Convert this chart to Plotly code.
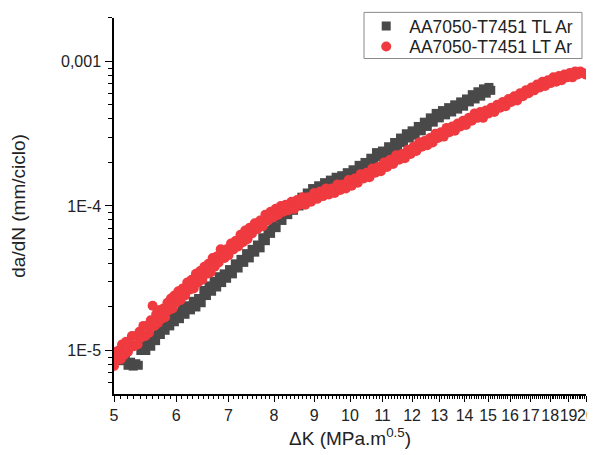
import math
import plotly.graph_objects as go

# AA7050-T7451 TL Ar (grey squares)
tl_dk = [5.06, 5.09, 5.13, 5.17, 5.21, 5.25, 5.29, 5.33, 5.37, 5.41, 5.45, 5.49, 5.53, 5.57,
         5.61, 5.65, 5.69, 5.73, 5.77, 5.81, 5.85, 5.89, 5.93, 5.97, 6.01, 6.06, 6.11, 6.16,
         6.21, 6.26, 6.31, 6.36, 6.41, 6.46, 6.51, 6.56, 6.61, 6.66, 6.71, 6.76, 6.81, 6.86,
         6.91, 6.96, 7.02, 7.08, 7.14, 7.20, 7.26, 7.32, 7.38, 7.44, 7.50, 7.56, 7.62, 7.68,
         7.74, 7.80, 7.86, 7.92, 7.98, 8.05, 8.12, 8.19, 8.26, 8.33, 8.40, 8.47, 8.54, 8.61,
         8.68, 8.75, 8.82, 8.89, 8.96, 9.04, 9.12, 9.20, 9.28, 9.36, 9.44, 9.52, 9.60, 9.68,
         9.76, 9.84, 9.92, 10.00, 10.09, 10.18, 10.27, 10.36, 10.45, 10.54, 10.63, 10.72, 10.81,
         10.90, 11.00, 11.10, 11.20, 11.30, 11.40, 11.50, 11.60, 11.70, 11.80, 11.90, 12.00,
         12.11, 12.22, 12.33, 12.44, 12.55, 12.66, 12.77, 12.88, 13.00, 13.12, 13.24, 13.36,
         13.48, 13.60, 13.72, 13.84, 13.96, 14.08, 14.20, 14.32, 14.44, 14.56, 14.68, 14.80,
         14.92, 15.04, 15.12]
tl_dadn = [8.9e-6, 9.5e-6, 8.5e-6, 9.3e-6, 7.9e-6, 8.3e-6, 7.8e-6, 8.1e-6, 7.9e-6, 1.00e-5,
           1.10e-5, 1.00e-5, 1.12e-5, 1.07e-5, 1.26e-5, 1.17e-5, 1.38e-5, 1.29e-5, 1.48e-5,
           1.38e-5, 1.58e-5, 1.48e-5, 1.70e-5, 1.58e-5, 1.82e-5, 1.66e-5, 1.95e-5, 1.78e-5,
           2.04e-5, 1.91e-5, 2.19e-5, 2.00e-5, 2.29e-5, 2.14e-5, 2.60e-5, 2.40e-5, 2.80e-5,
           2.57e-5, 3.00e-5, 2.75e-5, 3.24e-5, 2.95e-5, 3.39e-5, 3.16e-5, 3.63e-5, 3.39e-5,
           3.98e-5, 3.72e-5, 4.27e-5, 4.07e-5, 4.68e-5, 4.37e-5, 5.01e-5, 4.79e-5, 5.37e-5,
           5.13e-5, 6.03e-5, 5.75e-5, 6.76e-5, 6.46e-5, 7.41e-5, 7.08e-5, 8.32e-5, 7.94e-5,
           9.12e-5, 8.71e-5, 9.77e-5, 9.33e-5, 1.07e-4, 1.00e-4, 1.15e-4, 1.07e-4, 1.23e-4,
           1.15e-4, 1.32e-4, 1.23e-4, 1.38e-4, 1.29e-4, 1.45e-4, 1.35e-4, 1.51e-4, 1.41e-4,
           1.58e-4, 1.48e-4, 1.62e-4, 1.55e-4, 1.70e-4, 1.58e-4, 1.78e-4, 1.70e-4, 1.91e-4,
           1.78e-4, 2.00e-4, 1.86e-4, 2.14e-4, 2.00e-4, 2.34e-4, 2.19e-4, 2.40e-4, 2.24e-4,
           2.57e-4, 2.40e-4, 2.75e-4, 2.57e-4, 2.95e-4, 2.75e-4, 3.16e-4, 2.95e-4, 3.31e-4,
           3.09e-4, 3.55e-4, 3.31e-4, 3.80e-4, 3.55e-4, 4.07e-4, 3.80e-4, 4.37e-4, 4.07e-4,
           4.57e-4, 4.27e-4, 4.79e-4, 4.47e-4, 5.01e-4, 4.68e-4, 5.25e-4, 4.90e-4, 5.50e-4,
           5.25e-4, 5.89e-4, 5.50e-4, 6.17e-4, 5.75e-4, 6.46e-4, 6.03e-4, 6.61e-4, 6.31e-4]

# AA7050-T7451 LT Ar (red circles)
lt_dk = [5.00, 5.02, 5.04, 5.07, 5.10, 5.12, 5.15, 5.18, 5.21, 5.24, 5.27, 5.30, 5.33, 5.36,
         5.39, 5.42, 5.45, 5.48, 5.51, 5.54, 5.57, 5.60, 5.63, 5.66, 5.69, 5.72, 5.75, 5.78,
         5.81, 5.85, 5.88, 5.91, 5.94, 5.97, 6.00, 6.04, 6.08, 6.12, 6.16, 6.20, 6.24, 6.28,
         6.32, 6.36, 6.40, 6.44, 6.48, 6.52, 6.56, 6.60, 6.64, 6.68, 6.72, 6.76, 6.80, 6.84,
         6.88, 6.92, 6.96, 7.00, 7.05, 7.10, 7.15, 7.20, 7.25, 7.30, 7.35, 7.40, 7.45, 7.50,
         7.56, 7.62, 7.68, 7.74, 7.80, 7.86, 7.92, 7.98, 8.04, 8.10, 8.16, 8.22, 8.28, 8.35,
         8.42, 8.49, 8.56, 8.63, 8.70, 8.77, 8.84, 8.92, 9.00, 9.08, 9.16, 9.24, 9.32, 9.40,
         9.48, 9.56, 9.64, 9.72, 9.80, 9.88, 9.96, 10.05, 10.14, 10.23, 10.32, 10.41, 10.50,
         10.59, 10.68, 10.77, 10.86, 10.95, 11.05, 11.15, 11.25, 11.35, 11.45, 11.55, 11.65,
         11.75, 11.85, 11.95, 12.05, 12.15, 12.25, 12.35, 12.45, 12.55, 12.65, 12.75, 12.85,
         12.95, 13.06, 13.17, 13.28, 13.39, 13.50, 13.61, 13.72, 13.83, 13.94, 14.06, 14.18,
         14.30, 14.42, 14.54, 14.66, 14.78, 14.90, 15.02, 15.15, 15.28, 15.41, 15.54, 15.67,
         15.80, 15.93, 16.06, 16.20, 16.34, 16.48, 16.62, 16.76, 16.90, 17.04, 17.18, 17.32,
         17.46, 17.60, 17.74, 17.88, 18.02, 18.17, 18.32, 18.47, 18.62, 18.77, 18.92, 19.07,
         19.22, 19.37, 19.52, 19.67, 19.82, 19.97]
lt_dadn = [7.8e-6, 9.8e-6, 8.7e-6, 1.00e-5, 8.7e-6, 1.10e-5, 9.3e-6, 1.15e-5, 9.8e-6, 1.12e-5,
           1.26e-5, 1.07e-5, 1.26e-5, 1.10e-5, 1.35e-5, 1.23e-5, 1.48e-5, 1.26e-5, 1.48e-5,
           1.32e-5, 1.62e-5, 2.04e-5, 1.48e-5, 1.78e-5, 1.55e-5, 1.91e-5, 1.66e-5, 1.95e-5,
           1.70e-5, 2.14e-5, 1.91e-5, 2.29e-5, 1.95e-5, 2.40e-5, 2.14e-5, 2.57e-5, 2.24e-5,
           2.69e-5, 2.40e-5, 2.95e-5, 2.63e-5, 3.09e-5, 2.69e-5, 3.39e-5, 2.95e-5, 3.55e-5,
           3.09e-5, 3.80e-5, 3.39e-5, 3.98e-5, 3.47e-5, 4.37e-5, 3.80e-5, 4.47e-5, 4.07e-5,
           5.01e-5, 4.90e-5, 4.37e-5, 5.01e-5, 4.57e-5, 5.50e-5, 5.01e-5, 5.75e-5, 5.25e-5,
           6.31e-5, 5.62e-5, 6.76e-5, 5.89e-5, 7.08e-5, 6.46e-5, 7.59e-5, 6.92e-5, 7.94e-5,
           7.24e-5, 8.71e-5, 7.94e-5, 9.12e-5, 8.32e-5, 9.55e-5, 8.71e-5, 1.00e-4, 9.12e-5,
           1.02e-4, 9.33e-5, 1.07e-4, 9.55e-5, 1.10e-4, 1.02e-4, 1.15e-4, 1.02e-4, 1.15e-4,
           1.07e-4, 1.23e-4, 1.12e-4, 1.26e-4, 1.17e-4, 1.32e-4, 1.20e-4, 1.32e-4, 1.23e-4,
           1.41e-4, 1.29e-4, 1.41e-4, 1.32e-4, 1.51e-4, 1.38e-4, 1.55e-4, 1.45e-4, 1.66e-4,
           1.55e-4, 1.70e-4, 1.58e-4, 1.82e-4, 1.70e-4, 1.86e-4, 1.74e-4, 2.00e-4, 1.86e-4,
           2.09e-4, 1.95e-4, 2.24e-4, 2.09e-4, 2.29e-4, 2.14e-4, 2.45e-4, 2.29e-4, 2.57e-4,
           2.40e-4, 2.75e-4, 2.57e-4, 2.82e-4, 2.63e-4, 2.95e-4, 2.75e-4, 3.16e-4, 2.95e-4,
           3.24e-4, 3.02e-4, 3.47e-4, 3.24e-4, 3.55e-4, 3.31e-4, 3.72e-4, 3.55e-4, 3.89e-4,
           3.63e-4, 4.07e-4, 3.89e-4, 4.37e-4, 4.07e-4, 4.47e-4, 4.07e-4, 4.57e-4, 4.37e-4,
           4.79e-4, 4.47e-4, 5.01e-4, 4.79e-4, 5.25e-4, 4.90e-4, 5.50e-4, 5.25e-4, 5.75e-4,
           5.37e-4, 6.03e-4, 5.75e-4, 6.31e-4, 6.03e-4, 6.61e-4, 6.31e-4, 6.92e-4, 6.61e-4,
           7.24e-4, 6.76e-4, 7.41e-4, 7.08e-4, 7.76e-4, 7.24e-4, 7.94e-4, 7.41e-4, 8.13e-4,
           7.76e-4, 8.32e-4, 7.76e-4, 8.51e-4, 8.13e-4, 8.51e-4, 8.32e-4, 8.13e-4]

x_major = list(range(5, 21))
y_major = [1e-5, 1e-4, 1e-3]
y_labels = ["1E-5", "1E-4", "0,001"]

# minor ticks: every 0.1 on x, 2..9 per decade on y
x_minor = [round(5 + i * 0.1, 1) for i in range(151) if i % 10 != 0]
y_minor = [m * 10 ** e for e in (-6, -5, -4) for m in range(2, 10) if m * 10 ** e >= 5e-6] + [2e-3]

FONT = "Liberation Sans, Arial, sans-serif"
GREY = "#494949"
RED = "#ef3a3f"

fig = go.Figure()
fig.add_trace(go.Scatter(x=tl_dk, y=tl_dadn, mode="markers", name="AA7050-T7451 TL Ar",
                         legend="legend",
                         marker=dict(symbol="square", size=9, color=GREY, line=dict(width=0))))
fig.add_trace(go.Scatter(x=lt_dk, y=lt_dadn, mode="markers", name="AA7050-T7451 LT Ar",
                         legend="legend2",
                         marker=dict(symbol="circle", size=10, color=RED, line=dict(width=0))))

# the page puts the figure 8px in from the top-left corner, so it is 8px smaller
legend_style = dict(xanchor="left", yanchor="middle", x=0.528, borderwidth=0,
                    bgcolor="rgba(0,0,0,0)", itemwidth=36,
                    font=dict(size=17.5, color="#222"))
fig.update_layout(
    width=587, height=447,
    margin=dict(l=106, r=9, t=0, b=61),
    paper_bgcolor="white", plot_bgcolor="white",
    font=dict(family=FONT, size=16, color="#222"),
    showlegend=True,
    legend=dict(y=0.9637, **legend_style),
    legend2=dict(y=0.9093, **legend_style),
    shapes=[dict(type="rect", xref="paper", yref="paper", x0=0.5297, x1=0.9915,
                 y0=0.8782, y1=0.999, line=dict(color="#8a8a8a", width=1),
                 fillcolor="rgba(0,0,0,0)", layer="above")],
)
fig.update_xaxes(
    type="log", range=[math.log10(5), math.log10(20)], automargin=False,
    showline=True, linecolor="black", linewidth=1.5, mirror=False,
    showgrid=False, zeroline=False,
    tickmode="array", tickvals=x_major, ticktext=[str(v) for v in x_major],
    ticks="outside", ticklen=6, tickwidth=1.2, tickcolor="black", tickangle=0,
    minor=dict(tickmode="array", tickvals=x_minor, ticks="outside", ticklen=3,
               tickwidth=1, tickcolor="black", showgrid=False),
    title=dict(text="ΔK (MPa.m<sup>0.5</sup>)", font=dict(size=19), standoff=9),
)
fig.update_yaxes(
    type="log", range=[math.log10(5e-6), math.log10(2e-3)], automargin=False,
    domain=[0, 380 / 386],
    showline=True, linecolor="black", linewidth=1.5, mirror=False,
    showgrid=False, zeroline=False,
    tickmode="array", tickvals=y_major, ticktext=y_labels,
    ticks="outside", ticklen=7, tickwidth=1.2, tickcolor="black",
    ticklabelstandoff=1,
    minor=dict(tickmode="array", tickvals=y_minor, ticks="outside", ticklen=4,
               tickwidth=1, tickcolor="black", showgrid=False),
    title=dict(text="da/dN (mm/ciclo)", font=dict(size=19), standoff=30),
)

fig.write_html("out.html")
